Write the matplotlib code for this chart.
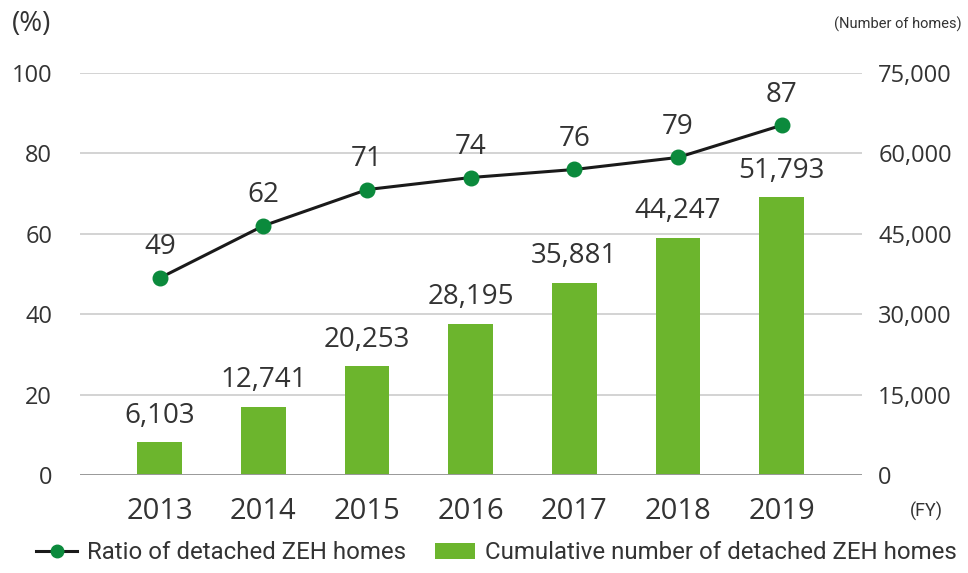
import matplotlib.pyplot as plt
from matplotlib.lines import Line2D
from matplotlib.patches import Patch

years = ["2013", "2014", "2015", "2016", "2017", "2018", "2019"]
ratio = [49, 62, 71, 74, 76, 79, 87]
cumulative = [6103, 12741, 20253, 28195, 35881, 44247, 51793]

pct_ticks = [0, 20, 40, 60, 80, 100]
home_ticks = [0, 15000, 30000, 45000, 60000, 75000]

bar_color = "#6cb52d"
dot_color = "#0b8a3c"
text_color = "#333333"
narrow = ["Roboto", "DejaVu Sans"]

plt.rcParams["font.family"] = ["Open Sans", "DejaVu Sans"]

fig = plt.figure(figsize=(9.68, 5.73), dpi=100)
ax = fig.add_axes([0.0826, 0.171, 0.8074, 0.7016])
ax2 = ax.twinx()

x = list(range(len(years)))

# bars on the right-hand axis
ax2.bar(x, cumulative, width=0.43, color=bar_color, zorder=3)
for xi, v in zip(x, cumulative):
    ax2.annotate(f"{v:,}", (xi, v), xytext=(0, 9), textcoords="offset points",
                 ha="center", va="bottom", fontsize=20, color=text_color)
ax2.set_ylim(0, 75000)
ax2.set_yticks(home_ticks)
ax2.set_yticklabels([f"{t:,}" for t in home_ticks], fontsize=17, color=text_color)

# gridlines drawn on ax2 so they sit behind bars
for t in home_ticks[1:]:
    ax2.axhline(t, color="#cccccc", lw=1.2, zorder=1)
ax2.axhline(0, color="#999999", lw=1.4, zorder=4)

# line on the left axis, put on top
ax.set_zorder(ax2.get_zorder() + 1)
ax.patch.set_visible(False)
ax.plot(x, ratio, color="#1a1a1a", lw=2.2, zorder=5)
ax.scatter(x, ratio, s=110, color=dot_color, zorder=6)
for xi, v in zip(x, ratio):
    ax.annotate(str(v), (xi, v), xytext=(0, 12), textcoords="offset points",
                ha="center", va="bottom", fontsize=20, color=text_color)
ax.set_ylim(0, 100)
ax.set_yticks(pct_ticks)
ax.set_yticklabels([str(t) for t in pct_ticks], fontsize=17, color=text_color)
ax.set_xlim(-0.77, 6.77)
ax.set_xticks(x)
ax.set_xticklabels(years, fontsize=21, color=text_color)

for a in (ax, ax2):
    for s in a.spines.values():
        s.set_visible(False)
    a.tick_params(length=0)
ax.tick_params(axis="y", pad=20)
ax2.tick_params(axis="y", pad=12)
ax.tick_params(axis="x", pad=16)

fig.text(0.012, 0.958, "(%)", fontsize=20, color=text_color, va="center")
fig.text(0.993, 0.958, "(Number of homes)", fontsize=10.5, color=text_color,
         va="center", ha="right", family=narrow)
fig.text(0.940, 0.107, "(FY)", fontsize=13, color=text_color, va="center",
         family=narrow)

handles = [
    Line2D([0], [0], color="#1a1a1a", lw=2.2, marker="o", markersize=9,
           markerfacecolor=dot_color, markeredgecolor=dot_color),
    Patch(facecolor=bar_color),
]
labels = ["Ratio of detached ZEH homes", "Cumulative number of detached ZEH homes"]
fig.legend(handles, labels, loc="center", bbox_to_anchor=(0.513, 0.035), ncol=2,
           frameon=False, prop={"family": narrow, "size": 17.3}, handlelength=1.7,
           columnspacing=1.2, handletextpad=0.4, labelcolor=text_color)

fig.savefig("out.png", dpi=100)
